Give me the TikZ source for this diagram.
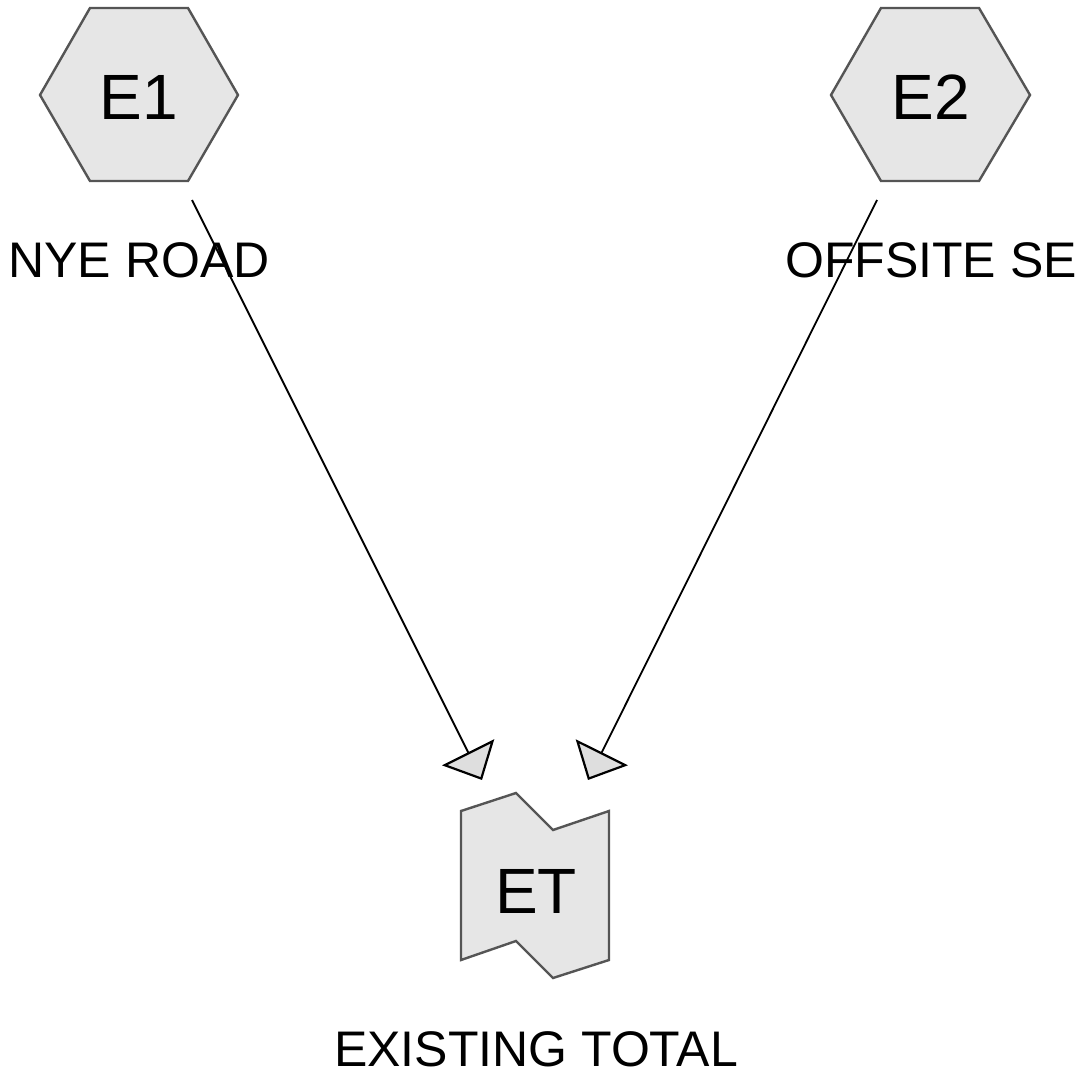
\documentclass[tikz,border=0pt]{standalone}
\usepackage{fontspec}
\setmainfont{Liberation Sans}
\usetikzlibrary{arrows.meta}
\definecolor{shapefill}{HTML}{E6E6E6}
\definecolor{shapeline}{HTML}{555555}
\definecolor{tipfill}{HTML}{DEDEDE}
\tikzset{
  shapebox/.style={fill=shapefill, draw=shapeline, line width=2.4pt, line join=miter},
  bigtext/.style={font=\fontsize{64}{64}\selectfont, inner sep=0pt, anchor=base},
  labeltext/.style={font=\fontsize{50}{50}\selectfont, inner sep=0pt, anchor=base},
  flow/.style={draw=black, line width=1.8pt,
    -{Triangle[length=31pt, width=58pt, fill=tipfill, line width=2.2pt]}}
}
\begin{document}
\begin{tikzpicture}[x=1pt,y=-1pt]
\useasboundingbox (0,0) rectangle (1082,1078);
% hexagon E1
\path[shapebox] (40,95) -- (90,8) -- (188,8) -- (238,95) -- (188,181) -- (90,181) -- cycle;
\node[bigtext] (E1) at (139,120) {E1};
\node[labeltext] (L1) at (139,277) {NYE ROAD};
% hexagon E2
\path[shapebox] (831,95) -- (881,8) -- (979,8) -- (1030,95) -- (979,181) -- (881,181) -- cycle;
\node[bigtext] (E2) at (931,120) {E2};
\node[labeltext] (L2) at (931,277) {OFFSITE SE};
% ET shape
\path[shapebox] (461,811) -- (516,793) -- (553,830) -- (609,811) -- (609,960) -- (553,978) -- (516,941) -- (461,960) -- cycle;
\node[bigtext] (ET) at (536,913) {ET};
\node[labeltext] (L3) at (536,1066) {EXISTING TOTAL};
% connectors
\coordinate (e1out) at (192,200);
\coordinate (e2out) at (877,200);
\coordinate (etin1) at (482,780);
\coordinate (etin2) at (588,780);
\draw[flow] (e1out) -- (etin1);
\draw[flow] (e2out) -- (etin2);
\end{tikzpicture}
\end{document}
